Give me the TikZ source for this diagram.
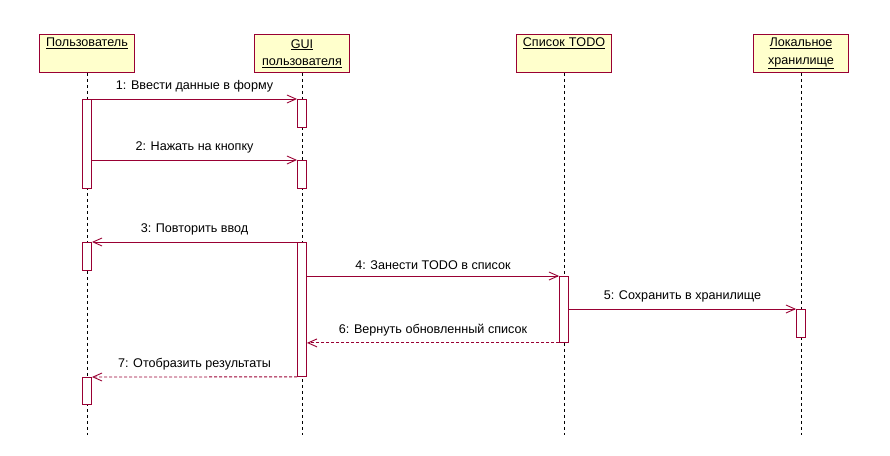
\documentclass[tikz,border=0pt]{standalone}
\usepackage{fontspec}
\setmainfont{Liberation Sans}
\usetikzlibrary{arrows.meta,positioning}

\definecolor{umlred}{HTML}{990033}
\definecolor{umlyellow}{HTML}{FFFFCC}

\begin{document}
\begin{tikzpicture}[
        x=1pt, y=-1pt,
        font=\fontsize{12.6}{17.5}\selectfont,
        declare function={
            UserX=87;
            GuiX=302;
            TodoX=564;
            StoreX=801;
            HeadY=34;
            Bottom=435;
        },
        head/.style={draw=umlred, fill=umlyellow, line width=0.9pt, minimum width=95pt, minimum height=38pt, text width=92pt, align=center, anchor=north, inner sep=1pt},
        act/.style={draw=umlred, fill=white, line width=0.9pt, minimum width=9pt, anchor=north, inner sep=0pt},
        lifeline/.style={draw=black, line width=0.8pt, dash pattern=on 3pt off 3pt},
        msg/.style={draw=umlred, line width=0.9pt, -{Straight Barb[length=9pt, width=8pt]}},
        reply/.style={msg, dash pattern=on 3pt off 2pt},
        lbl/.style={midway, above=3pt, text=black}
    ]
        \useasboundingbox (0, 0) rectangle (890, 455);

        % heads
        \node[head] (user) at (UserX, HeadY) {\underline{Пользователь}\\\strut};
        \node[head] (gui) at (GuiX, HeadY) {\underline{GUI}\\\underline{пользователя}};
        \node[head] (todo) at (TodoX, HeadY) {\underline{Список TODO}\\\strut};
        \node[head] (store) at (StoreX, HeadY) {\underline{Локальное}\\\underline{хранилище}};

        \coordinate (userEnd) at (UserX, Bottom);
        \coordinate (guiEnd) at (GuiX, Bottom);
        \coordinate (todoEnd) at (TodoX, Bottom);
        \coordinate (storeEnd) at (StoreX, Bottom);

        \draw[lifeline] (user) -- (userEnd);
        \draw[lifeline] (gui) -- (guiEnd);
        \draw[lifeline] (todo) -- (todoEnd);
        \draw[lifeline] (store) -- (storeEnd);

        % activations
        \node[act, minimum height=89pt] (userA) at (UserX, 99) {};
        \node[act, minimum height=28pt] (guiA) at (GuiX, 99) {};
        \node[act, minimum height=28pt] (guiB) at (GuiX, 160) {};
        \node[act, minimum height=28pt] (userB) at (UserX, 242) {};
        \node[act, minimum height=134pt] (guiC) at (GuiX, 242) {};
        \node[act, minimum height=66pt] (todoA) at (TodoX, 276) {};
        \node[act, minimum height=28pt] (storeA) at (StoreX, 309) {};
        \node[act, minimum height=27pt] (userC) at (UserX, 377) {};

        % messages
        \draw[msg] (userA.north east) -- (guiA.north west) node[lbl] {1: Ввести данные в форму};
        \draw[msg] (userA.east |- guiB.north) -- (guiB.north west) node[lbl] {2: Нажать на кнопку};
        \draw[msg] (guiC.north west) -- (userB.north east) node[lbl] {3: Повторить ввод};
        \draw[msg] (guiC.east |- todoA.north) -- (todoA.north west) node[lbl] {4: Занести TODO в список};
        \draw[msg] (todoA.east |- storeA.north) -- (storeA.north west) node[lbl] {5: Сохранить в хранилище};
        \draw[reply] (todoA.south west) -- (guiC.east |- todoA.south) node[lbl] {6: Вернуть обновленный список};
        \draw[reply] (guiC.south west) -- (userC.north east) node[lbl] {7: Отобразить результаты};
\end{tikzpicture}
\end{document}
